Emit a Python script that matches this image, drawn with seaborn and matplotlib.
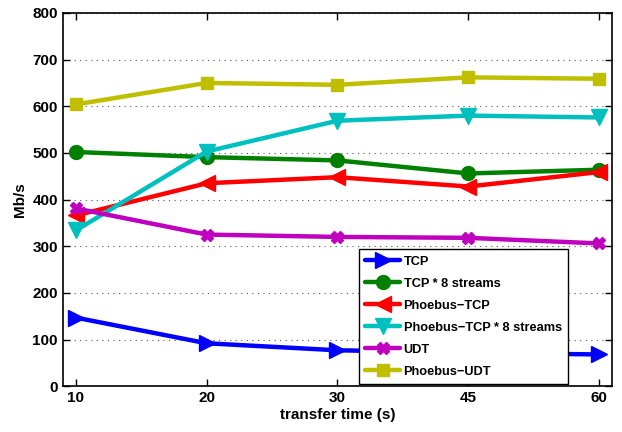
import matplotlib
matplotlib.use("Agg")
import matplotlib.pyplot as plt
import seaborn as sns
import pandas as pd

times = ["10", "20", "30", "45", "60"]
tcp = [147, 92, 77, 72, 68]
tcp8 = [502, 491, 484, 456, 464]
phoebus_tcp = [366, 435, 448, 428, 459]
phoebus_tcp8 = [334, 503, 569, 580, 576]
udt = [381, 325, 320, 318, 306]
phoebus_udt = [604, 650, 646, 662, 659]

series = [
    ("TCP", tcp, (0, 0, 1), ">", 12),
    ("TCP * 8 streams", tcp8, (0, 0.5, 0), "o", 10),
    ("Phoebus\u2212TCP", phoebus_tcp, (1, 0, 0), "<", 12),
    ("Phoebus\u2212TCP * 8 streams", phoebus_tcp8, (0, 0.75, 0.75), "v", 12),
    ("UDT", udt, (0.75, 0, 0.75), "X", 8),
    ("Phoebus\u2212UDT", phoebus_udt, (0.75, 0.75, 0), "s", 9),
]

sns.set_style("ticks")
plt.rcParams["font.family"] = ["Liberation Sans", "DejaVu Sans"]
plt.rcParams["font.weight"] = "bold"
for k in ["text.color", "axes.labelcolor", "xtick.color", "ytick.color"]:
    plt.rcParams[k] = "black"

fig = plt.figure(figsize=(6.22, 4.32), dpi=100)
ax = fig.add_axes([0.101, 0.106, 0.883, 0.864])

pos = list(range(1, len(times) + 1))
for name, vals, color, marker, ms in series:
    df = pd.DataFrame({"x": pos, "y": vals})
    sns.lineplot(data=df, x="x", y="y", ax=ax, color=color, marker=marker,
                 markersize=ms, linewidth=3.2, markeredgecolor=color,
                 markeredgewidth=1, label=name)

ax.set_xlim(0.9, 5.1)
ax.set_ylim(0, 800)
ax.set_xticks(pos)
ax.set_xticklabels(times)
ax.set_yticks(range(0, 801, 100))
ax.tick_params(direction="in", top=True, right=True, labelsize=11, length=5,
               width=1, colors="black")
for lab in ax.get_xticklabels() + ax.get_yticklabels():
    lab.set_fontweight("bold")
ax.yaxis.grid(True, linestyle=(0, (1, 4)), color="#555555", linewidth=0.8)
ax.xaxis.grid(False)
for sp in ax.spines.values():
    sp.set_visible(True)
    sp.set_linewidth(1.2)
    sp.set_color("black")
ax.set_xlabel("transfer time (s)", fontsize=11, fontweight="bold", labelpad=2)
ax.set_ylabel("Mb/s", fontsize=11, fontweight="bold")

leg = ax.legend(loc="lower right", bbox_to_anchor=(0.92, 0.006), frameon=True,
                fancybox=False, edgecolor="black", framealpha=1.0,
                handlelength=2.7, borderpad=0.5, labelspacing=0.78,
                handletextpad=0.3, borderaxespad=0.0,
                prop={"weight": "bold", "size": 9.2})
leg.get_frame().set_linewidth(1.0)

fig.savefig("out.png", dpi=100)
